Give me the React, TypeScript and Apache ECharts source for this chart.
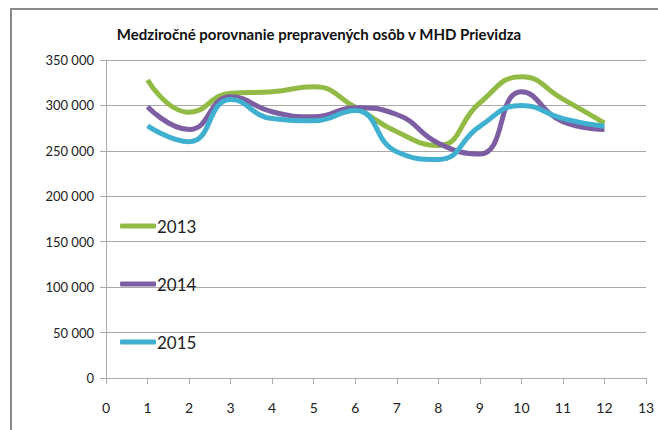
import React, { useEffect, useRef } from "react";
import * as echarts from "echarts";

const months = [1, 2, 3, 4, 5, 6, 7, 8, 9, 10, 11, 12];
const seriesNames = ["2013", "2014", "2015"];
const values2013 = [328000, 292500, 313500, 315000, 320500, 298000, 271000, 256000, 303000, 331500, 307000, 280500];
const values2014 = [298500, 273500, 309500, 293000, 287500, 297500, 290000, 258500, 246500, 315000, 282000, 273500];
const values2015 = [277500, 260000, 306500, 285500, 283000, 294500, 249000, 240500, 277000, 300000, 285500, 277000];
const colors = ["#92bb45", "#7d5ea3", "#3fb0cf"];

const font = 'Lato, "DejaVu Sans Condensed", sans-serif';

function fmt(v: number): string {
  return String(v).replace(/\B(?=(\d{3})+(?!\d))/g, " ");
}

export default function App() {
  const ref = useRef<HTMLDivElement>(null);
  useEffect(() => {
    document.body.style.margin = "0";
    const chart = echarts.init(ref.current!, null, { renderer: "svg" });
    const all = [values2013, values2014, values2015];
    chart.setOption({
      animation: false,
      backgroundColor: "#ffffff",
      title: {
        text: "Medziročné porovnanie prepravených osôb v MHD Prievidza",
        left: 314,
        textAlign: "center",
        top: 21,
        textStyle: { fontFamily: font, fontSize: 15, fontWeight: "bold", color: "#111" },
      },
      graphic: [
        {
          type: "rect",
          shape: { x: 11, y: 9, width: 700, height: 500 },
          style: { fill: "none", stroke: "#8a8a8a", lineWidth: 2 },
          silent: true,
        },
      ],
      legend: {
        orient: "vertical",
        left: 115,
        top: 211,
        itemWidth: 36,
        itemHeight: 5,
        itemGap: 38,
        icon: "roundRect",
        data: seriesNames,
        textStyle: { fontFamily: font, fontSize: 17, color: "#222", lineHeight: 20, padding: [0, 0, 0, -4] },
      },
      grid: { left: 106, right: 12, top: 60, bottom: 52 },
      xAxis: {
        type: "value",
        min: 0,
        max: 13,
        interval: 1,
        axisLine: { lineStyle: { color: "#aaaaaa", width: 1 } },
        axisTick: { show: true, length: 6, lineStyle: { color: "#aaaaaa" } },
        axisLabel: { fontFamily: font, fontSize: 14, color: "#222", margin: 22 },
        splitLine: { show: false },
      },
      yAxis: {
        type: "value",
        min: 0,
        max: 350000,
        interval: 50000,
        axisLine: { show: true, lineStyle: { color: "#aaaaaa", width: 1 } },
        axisTick: { show: true, length: 6, lineStyle: { color: "#aaaaaa" } },
        axisLabel: { fontFamily: font, fontSize: 13, color: "#222", margin: 12, formatter: (v: number) => fmt(v) },
        splitLine: { show: true, lineStyle: { color: "#a8a8a8", width: 1 } },
      },
      series: seriesNames.map((name, si) => ({
        name,
        type: "line",
        smooth: 0.5,
        showSymbol: false,
        symbol: "none",
        data: months.map((m, i) => [m, all[si][i]]),
        lineStyle: { color: colors[si], width: 5 },
        itemStyle: { color: colors[si] },
      })),
    });
    return () => chart.dispose();
  }, []);
  return <div ref={ref} style={{ position: "absolute", left: 0, top: 0, width: 658, height: 430 }} />;
}
